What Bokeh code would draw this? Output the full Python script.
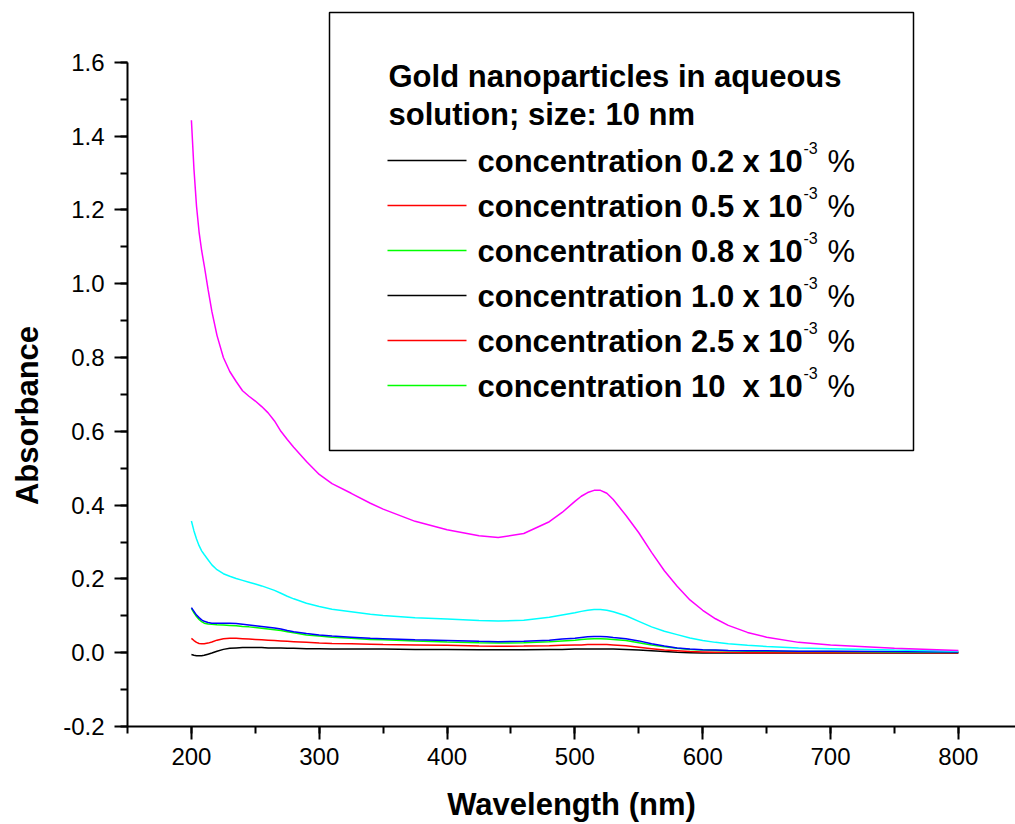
import math
from bokeh.plotting import figure
from bokeh.models import Range1d, SingleIntervalTicker, PrintfTickFormatter, Label
from bokeh.core.properties import value
from bokeh.embed import file_html
from bokeh.resources import INLINE

# ---------------- data ----------------
wavelength = [200, 202, 204, 206, 208, 210,
              213, 216, 220, 225, 230,
              235, 240, 245, 250, 255,
              260, 265, 270, 275, 280,
              290, 300, 310, 325, 340,
              350, 375, 400, 425, 440,
              460, 480, 490, 500, 505,
              510, 515, 520, 525, 530,
              540, 550, 560, 570, 580,
              590, 600, 610, 620, 635,
              650, 675, 700, 750, 800]

abs_c02 = [-0.005, -0.007, -0.008, -0.008, -0.008, -0.007,
           -0.004, -0.001, 0.004, 0.009, 0.012,
           0.013, 0.014, 0.014, 0.014, 0.014,
           0.013, 0.013, 0.013, 0.012, 0.012,
           0.011, 0.011, 0.010, 0.010, 0.010,
           0.010, 0.009, 0.009, 0.008, 0.008,
           0.008, 0.009, 0.009, 0.010, 0.010,
           0.010, 0.010, 0.010, 0.010, 0.010,
           0.009, 0.007, 0.005, 0.003, 0.001,
           0.000, -0.001, -0.001, -0.001, -0.001,
           -0.001, -0.001, -0.001, -0.001, -0.001]
abs_c05 = [0.039, 0.033, 0.028, 0.025, 0.024, 0.024,
           0.026, 0.029, 0.034, 0.038, 0.039,
           0.039, 0.038, 0.037, 0.036, 0.035,
           0.034, 0.033, 0.032, 0.031, 0.030,
           0.028, 0.026, 0.025, 0.024, 0.023,
           0.022, 0.021, 0.020, 0.018, 0.0175,
           0.018, 0.019, 0.020, 0.021, 0.021,
           0.022, 0.022, 0.022, 0.022, 0.021,
           0.019, 0.015, 0.011, 0.007, 0.005,
           0.003, 0.002, 0.001, 0.001, 0.000,
           0.000, 0.000, 0.000, 0.000, 0.000]
abs_c08 = [0.120, 0.108, 0.098, 0.090, 0.084, 0.080,
           0.078, 0.077, 0.076, 0.075, 0.074,
           0.073, 0.071, 0.070, 0.068, 0.066,
           0.064, 0.062, 0.060, 0.057, 0.054,
           0.048, 0.045, 0.042, 0.039, 0.036,
           0.035, 0.032, 0.029, 0.027, 0.026,
           0.027, 0.030, 0.032, 0.034, 0.036,
           0.037, 0.038, 0.038, 0.037, 0.036,
           0.033, 0.027, 0.021, 0.016, 0.012,
           0.009, 0.007, 0.006, 0.005, 0.004,
           0.004, 0.003, 0.003, 0.002, 0.001]
abs_c10 = [0.122, 0.112, 0.102, 0.095, 0.089, 0.085,
           0.082, 0.080, 0.080, 0.080, 0.080,
           0.079, 0.077, 0.075, 0.073, 0.071,
           0.069, 0.067, 0.064, 0.060, 0.057,
           0.052, 0.048, 0.045, 0.042, 0.039,
           0.038, 0.035, 0.033, 0.031, 0.030,
           0.031, 0.034, 0.037, 0.039, 0.041,
           0.043, 0.044, 0.044, 0.043, 0.041,
           0.038, 0.032, 0.024, 0.018, 0.013,
           0.010, 0.008, 0.007, 0.006, 0.005,
           0.005, 0.004, 0.004, 0.003, 0.002]
abs_c25 = [0.357, 0.330, 0.308, 0.290, 0.276, 0.266,
           0.252, 0.238, 0.225, 0.214, 0.207,
           0.201, 0.196, 0.191, 0.186, 0.181,
           0.175, 0.169, 0.161, 0.153, 0.146,
           0.134, 0.125, 0.118, 0.111, 0.104,
           0.101, 0.095, 0.091, 0.087, 0.086,
           0.088, 0.096, 0.102, 0.108, 0.112,
           0.115, 0.117, 0.117, 0.115, 0.111,
           0.100, 0.085, 0.070, 0.058, 0.049,
           0.040, 0.033, 0.028, 0.024, 0.020,
           0.017, 0.013, 0.011, 0.007, 0.004]
abs_c100 = [1.443, 1.310, 1.210, 1.140, 1.090, 1.050,
            0.985, 0.925, 0.860, 0.800, 0.762,
            0.735, 0.710, 0.695, 0.682, 0.667,
            0.650, 0.628, 0.600, 0.578, 0.557,
            0.518, 0.483, 0.458, 0.432, 0.405,
            0.389, 0.356, 0.333, 0.317, 0.312,
            0.323, 0.355, 0.380, 0.410, 0.424,
            0.434, 0.440, 0.440, 0.432, 0.415,
            0.372, 0.325, 0.272, 0.222, 0.180,
            0.143, 0.115, 0.092, 0.074, 0.055,
            0.042, 0.028, 0.021, 0.012, 0.006]

series = [abs_c02, abs_c05, abs_c08, abs_c10, abs_c25, abs_c100]
curve_colors = ["#000000", "#ff0000", "#00ff00", "#0000ff", "#00ffff", "#ff00ff"]

concentrations = ["0.2", "0.5", "0.8", "1.0", "2.5", "10"]
legend_colors = ["#000000", "#ff0000", "#00ff00", "#000000", "#ff0000", "#00ff00"]
legend_title = ["Gold nanoparticles in aqueous", "solution; size: 10 nm"]

x_label = "Wavelength (nm)"
y_label = "Absorbance"
x_ticks_interval = 100
y_ticks_interval = 0.2

# ---------------- layout ----------------
W, H = 1015, 824
L, R, T, B = 127, 0, 10, 98
X0, X1 = 150, 844.7
Y0, Y1 = -0.2, 1.7404
FW, FH = W - L - R, H - T - B


def xd(px):
    return X0 + (px - L) * (X1 - X0) / FW


def yd(py):
    return Y1 - (py - T) * (Y1 - Y0) / FH


FONT = "Liberation Sans"
BIG = 31      # px, legend and axis-title text
SUP = 16      # px, superscript


def mid(baseline_py, size):
    # vertical centre of the em box for a given text baseline
    return baseline_py - 0.3465 * size


p = figure(width=W, height=H, x_range=Range1d(X0, X1), y_range=Range1d(Y0, Y1),
           output_backend="svg", toolbar_location=None, title=None,
           min_border_left=L, min_border_right=R, min_border_top=T, min_border_bottom=B)
p.xgrid.visible = False
p.ygrid.visible = False
p.outline_line_color = None
p.background_fill_color = "white"
p.border_fill_color = "white"

for ax in (p.xaxis[0], p.yaxis[0]):
    ax.axis_line_width = 2
    ax.axis_line_color = "black"
    ax.major_tick_line_width = 2
    ax.minor_tick_line_width = 2
    ax.major_tick_in = 0
    ax.major_tick_out = 13
    ax.minor_tick_in = 0
    ax.minor_tick_out = 7
    ax.major_label_text_font = FONT
    ax.major_label_text_font_size = "24px"
    ax.major_label_text_color = "black"

p.xaxis[0].ticker = SingleIntervalTicker(interval=x_ticks_interval, num_minor_ticks=2)
p.xaxis[0].major_label_standoff = 8
p.yaxis[0].ticker = SingleIntervalTicker(interval=y_ticks_interval, num_minor_ticks=2)
p.yaxis[0].formatter = PrintfTickFormatter(format="%.1f")
p.yaxis[0].bounds = (-0.2, 1.6)
p.yaxis[0].major_label_standoff = 10

# curves
for vals, c in zip(series, curve_colors):
    p.line(wavelength, vals, line_color=c, line_width=1.5)

# legend box
p.quad(left=[xd(329)], right=[xd(913)], top=[yd(12)], bottom=[yd(450)],
       fill_color=None, line_color="black", line_width=1.5)

# legend title
p.text(x=[xd(388)] * 2, y=[yd(mid(87, BIG)), yd(mid(125, BIG))], text=legend_title,
       text_font=value(FONT), text_font_style="bold", text_font_size=f"{BIG}px",
       text_color="black", text_baseline="middle", text_align="left")

rows = list(range(len(concentrations)))
line_y = [yd(160 + 45 * i) for i in rows]
text_y = [yd(mid(172 + 45 * i, BIG)) for i in rows]
sup_y = [yd(mid(153 + 45 * i, SUP)) for i in rows]

for i in rows:
    p.line([xd(387), xd(466)], [line_y[i], line_y[i]], line_color=legend_colors[i],
           line_width=1.5)
p.text(x=[xd(477)] * len(rows), y=text_y,
       text=["concentration " + c for c in concentrations],
       text_font=value(FONT), text_font_style="bold", text_font_size=f"{BIG}px",
       text_color="black", text_baseline="middle")
p.text(x=[xd(742)] * len(rows), y=text_y, text=["x 10"] * len(rows),
       text_font=value(FONT), text_font_style="bold", text_font_size=f"{BIG}px",
       text_color="black", text_baseline="middle")
p.text(x=[xd(803)] * len(rows), y=sup_y, text=["-3"] * len(rows),
       text_font=value(FONT), text_font_size=f"{SUP}px",
       text_color="black", text_baseline="middle")
p.text(x=[xd(827)] * len(rows), y=text_y, text=["%"] * len(rows),
       text_font=value(FONT), text_font_size=f"{BIG}px",
       text_color="black", text_baseline="middle")

# axis titles, placed in the side panels so they are not clipped by the frame
p.add_layout(Label(x=xd(571), y=yd(mid(815, BIG)), text=x_label, text_font=FONT,
                   text_font_style="bold", text_font_size=f"{BIG}px", text_color="black",
                   text_align="center", text_baseline="middle"), "below")
p.add_layout(Label(x=xd(27), y=yd(415), text=y_label, angle=math.pi / 2,
                   text_font=FONT, text_font_style="bold", text_font_size=f"{BIG}px",
                   text_color="black", text_align="center", text_baseline="middle"),
             "left")

open("out.html", "w").write(file_html(p, INLINE))
